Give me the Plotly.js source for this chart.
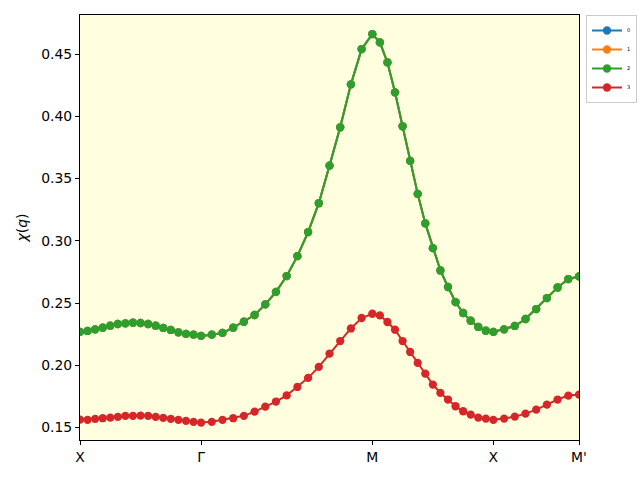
<!DOCTYPE html>
<html>
<head>
<meta charset="utf-8">
<script src="https://cdn.plot.ly/plotly-3.0.1.min.js"></script>
<style>
  html, body { margin: 0; padding: 0; background: #ffffff; }
  #chart { width: 640px; height: 480px; }
</style>
</head>
<body>
<div id="chart"></div>
<script>
// k-path distance of each sampled q point (X -> Γ -> M -> X -> M')
const kDist = [
  0, 0.0625, 0.125, 0.1875, 0.25, 0.3125, 0.375, 0.4375, 0.5, 0.5625, 0.625, 0.6875, 0.75, 0.8125, 0.875, 0.9375, 1.0,
  1.0884, 1.1768, 1.2652, 1.3536, 1.4419, 1.5303, 1.6187, 1.7071, 1.7955, 1.8839, 1.9723, 2.0607, 2.1490, 2.2374, 2.3258, 2.4142,
  2.4767, 2.5392, 2.6017, 2.6642, 2.7267, 2.7892, 2.8517, 2.9142, 2.9767, 3.0392, 3.1017, 3.1642, 3.2267, 3.2892, 3.3517, 3.4142,
  3.5026, 3.5910, 3.6794, 3.7678, 3.8561, 3.9445, 4.0329, 4.1213
];

// χ(q) for components 0, 1, 2 (coincide)
const chiUpper = [
  0.2268, 0.2276, 0.2289, 0.2302, 0.2318, 0.2332, 0.2337, 0.2342, 0.2340, 0.2332, 0.2318, 0.2300, 0.2284, 0.2265, 0.2252, 0.2246, 0.2236,
  0.2246, 0.2260, 0.2302, 0.2350, 0.2404, 0.2489, 0.2590, 0.2717, 0.2877, 0.3070, 0.3302, 0.3604, 0.3912, 0.4257, 0.4540, 0.4660,
  0.4594, 0.4433, 0.4193, 0.3920, 0.3642, 0.3377, 0.3140, 0.2941, 0.2762, 0.2629, 0.2508, 0.2420, 0.2358, 0.2308, 0.2278, 0.2268,
  0.2289, 0.2316, 0.2372, 0.2452, 0.2540, 0.2625, 0.2693, 0.2714
];

// χ(q) for component 3
const chiLower = [
  0.1564, 0.1562, 0.1570, 0.1575, 0.1580, 0.1586, 0.1594, 0.1594, 0.1596, 0.1594, 0.1586, 0.1578, 0.1570, 0.1562, 0.1554, 0.1546, 0.1540,
  0.1546, 0.1562, 0.1575, 0.1594, 0.1628, 0.1668, 0.1709, 0.1758, 0.1826, 0.1899, 0.1987, 0.2094, 0.2195, 0.2296, 0.2380, 0.2414,
  0.2401, 0.2348, 0.2286, 0.2195, 0.2107, 0.2019, 0.1933, 0.1845, 0.1778, 0.1725, 0.1671, 0.1631, 0.1604, 0.1580, 0.1572, 0.1562,
  0.1572, 0.1588, 0.1612, 0.1644, 0.1684, 0.1725, 0.1757, 0.1765
];

const seriesNames = ['0', '1', '2', '3'];
const seriesColors = ['#1f77b4', '#ff7f0e', '#2ca02c', '#d62728'];
const seriesValues = [chiUpper, chiUpper, chiUpper, chiLower];

const pathTickPos = [0, 1.0, 2.4142, 3.4142, 4.1213];
const pathTickText = ['X', 'Γ', 'M', 'X', "M'"];

const traces = seriesNames.map((name, i) => ({
  x: kDist,
  y: seriesValues[i],
  name: name,
  type: 'scatter',
  mode: 'lines+markers',
  line: { color: seriesColors[i], width: 2 },
  marker: { color: seriesColors[i], size: 8.3 }
}));

const font = { family: 'DejaVu Sans, sans-serif', size: 13.9, color: '#000000' };

const layout = {
  width: 640,
  height: 480,
  margin: { l: 80, r: 61, t: 15, b: 40, pad: 0, autoexpand: false },
  paper_bgcolor: '#ffffff',
  plot_bgcolor: '#ffffe0',
  font: font,
  showlegend: true,
  legend: {
    x: 1.014, y: 1.0, xanchor: 'left', yanchor: 'top',
    bgcolor: 'rgba(255,255,255,0.8)',
    bordercolor: '#cccccc', borderwidth: 1,
    font: { family: 'DejaVu Sans, sans-serif', size: 5, color: '#000000' },
    itemwidth: 30,
    tracegroupgap: 0
  },
  xaxis: {
    range: [0, 4.1213],
    tickmode: 'array',
    tickvals: pathTickPos,
    ticktext: pathTickText,
    showgrid: false,
    zeroline: false,
    showline: true,
    linecolor: '#000000',
    linewidth: 1,
    mirror: true,
    ticks: 'outside',
    ticklen: 4,
    tickwidth: 1,
    tickcolor: '#000000',
    tickfont: font
  },
  yaxis: {
    range: [0.1400, 0.4814],
    tickmode: 'array',
    tickvals: [0.15, 0.20, 0.25, 0.30, 0.35, 0.40, 0.45],
    ticktext: ['0.15', '0.20', '0.25', '0.30', '0.35', '0.40', '0.45'],
    showgrid: false,
    zeroline: false,
    showline: true,
    linecolor: '#000000',
    linewidth: 1,
    mirror: true,
    ticks: 'outside',
    ticklen: 4,
    tickwidth: 1,
    tickcolor: '#000000',
    tickfont: font,
    title: { text: '<i>χ</i>(<i>q</i>)', font: font, standoff: 10 }
  }
};

Plotly.newPlot('chart', traces, layout, { displayModeBar: false, staticPlot: true });
</script>
</body>
</html>
